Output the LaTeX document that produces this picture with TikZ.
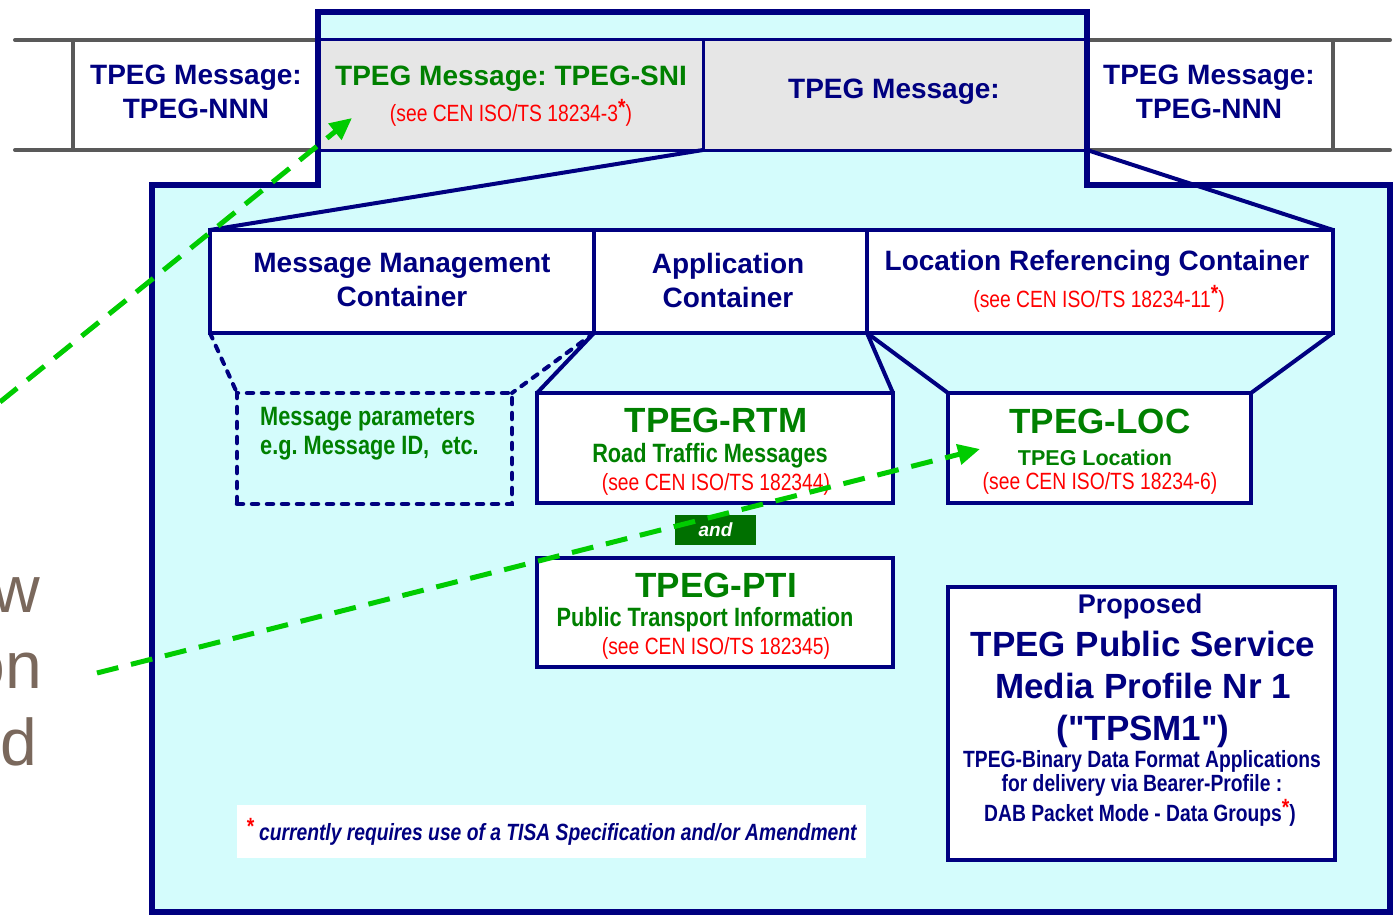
\documentclass[tikz,border=0pt]{standalone}
\usepackage{fontspec}
\setmainfont{Liberation Sans}[Ligatures=TeXOff]
\newfontfamily\narrowfont[FakeStretch=0.82]{Liberation Sans}
\usetikzlibrary{arrows.meta}
\definecolor{navy}{RGB}{0,0,128}
\definecolor{cyanfill}{RGB}{212,252,252}
\definecolor{cellgray}{RGB}{230,230,230}
\definecolor{dkgreen}{RGB}{0,128,0}
\definecolor{brightgreen}{RGB}{0,204,0}
\definecolor{bandgray}{RGB}{89,89,89}
\definecolor{fragbrown}{RGB}{122,104,92}
\definecolor{andgreen}{RGB}{0,112,0}
\definecolor{refred}{RGB}{255,0,0}
\newcommand{\fsz}[2]{\fontsize{#1}{#2}\selectfont}
\newcommand{\redast}{\textcolor{refred}{\raisebox{0.28em}{\bfseries *}}}
\frenchspacing
\begin{document}
\begin{tikzpicture}[x=1pt,y=-1pt,
  box/.style={draw=navy, line width=4pt, fill=white, rectangle, outer sep=0pt, inner sep=0pt},
  cell/.style={draw=navy, line width=3pt, fill=cellgray, rectangle, outer sep=0pt, inner sep=0pt},
  dbox/.style={draw=navy, line width=4.5pt, dash pattern=on 6pt off 9pt, line cap=round, rectangle, outer sep=0pt, inner sep=0pt},
  dline/.style={navy, line width=4pt, dash pattern=on 6pt off 8pt, line cap=round},
  sline/.style={navy, line width=4pt},
  ttl/.style={text=navy, align=center, inner sep=0pt, font=\bfseries\fsz{28}{34}},
  big/.style={text=dkgreen, inner sep=0pt, font=\bfseries\fsz{35}{40}},
  sub/.style={text=dkgreen, inner sep=0pt, font=\narrowfont\bfseries\fsz{26.5}{29}},
  ref/.style={text=refred, inner sep=0pt, font=\narrowfont\fsz{23.5}{26}},
  frag/.style={text=fragbrown, inner sep=0pt, font=\fsz{66}{76}, anchor=base east},
  garrow/.style={brightgreen, line width=5pt, dash pattern=on 22pt off 13pt, -{Triangle[length=22pt,width=20pt]}}
]
\useasboundingbox (0,0) rectangle (1396,915);
\clip (0,0) rectangle (1396,915);
% outer cyan shape
\fill[cyanfill] (318,12) -- (1087,12) -- (1087,185) -- (1390,185) -- (1390,912) -- (152,912) -- (152,185) -- (318,185) -- cycle;
% band
\draw[bandgray, line width=4pt, line cap=round] (15,40) -- (1390,40);
\draw[bandgray, line width=4pt, line cap=round] (15,150) -- (1390,150);
\draw[bandgray, line width=4pt] (73,40) -- (73,150);
\draw[bandgray, line width=4pt] (1333,40) -- (1333,150);
\node[cell, minimum width=385pt, minimum height=110pt] (sni) at (510.5,95) {};
\node[cell, minimum width=384pt, minimum height=110pt] (tpm) at (895,95) {};
\draw[navy, line width=5.5pt, line join=miter] (318,12) -- (1087,12) -- (1087,185) -- (1390,185) -- (1390,912) -- (152,912) -- (152,185) -- (318,185) -- cycle;
% containers
\node[box, minimum width=384pt, minimum height=103pt] (mmc) at (402,281.5) {};
\node[box, minimum width=273pt, minimum height=103pt] (app) at (730.5,281.5) {};
\node[box, minimum width=466pt, minimum height=103pt] (lrc) at (1100,281.5) {};
\draw[sline] (sni.south east) -- (mmc.north west);
\draw[sline] (tpm.south east) -- (lrc.north east);
% second level
\node[dbox, minimum width=275pt, minimum height=111pt] (par) at (374.5,448.5) {};
\node[box, minimum width=356pt, minimum height=110pt] (rtm) at (715,448) {};
\node[box, minimum width=303pt, minimum height=110pt] (loc) at (1099.5,448) {};
\node[box, minimum width=356pt, minimum height=109pt] (pti) at (715,612.5) {};
\node[box, minimum width=387pt, minimum height=273pt] (prop) at (1141.5,723.5) {};
\node[fill=white, minimum width=629pt, minimum height=53pt, inner sep=0pt, outer sep=0pt] (note) at (551.5,831.5) {};
\node[fill=andgreen, minimum width=81pt, minimum height=30pt, inner sep=0pt, outer sep=0pt, text=white, font=\bfseries\itshape\fsz{19}{22}] (andb) at (715.5,530) {and};
\draw[dline] (mmc.south west) -- (par.north west);
\draw[dline] (mmc.south east) -- (par.north east);
\draw[sline] (app.south west) -- (rtm.north west);
\draw[sline] (app.south east) -- (rtm.north east);
\draw[sline] (lrc.south west) -- (loc.north west);
\draw[sline] (lrc.south east) -- (loc.north east);
% band texts
\node[ttl] (nnnl) at (196,92) {TPEG Message:\\TPEG-NNN};
\node[ttl, text=dkgreen] (snit) at (511,79) {TPEG Message: TPEG-SNI};
\node[ref] (snir) at (511,113) {(see CEN ISO/TS 18234-3\redast)};
\node[ttl] (tpmt) at (894,92) {TPEG Message:};
\node[ttl] (nnnr) at (1209,92) {TPEG Message:\\TPEG-NNN};
% container texts
\node[ttl] (mmct) at (402,280) {Message Management\\Container};
\node[ttl] (appt) at (728,280) {Application\\Container};
\node[ttl] (lrct) at (1097,263) {Location Referencing Container};
\node[ref] (lrcr) at (1099,299) {(see CEN ISO/TS 18234-11\redast)};
% second level texts
\node[sub, align=left, anchor=north west] (part) at (260,407) {Message parameters\\e.g. Message ID,~ etc.};
\node[big] (rtmt) at (716,420) {TPEG-RTM};
\node[sub] (rtms) at (710,456) {Road Traffic Messages};
\node[ref] (rtmr) at (716,484) {(see CEN ISO/TS 182344)};
\node[big] (loct) at (1100,421) {TPEG-LOC};
\node[text=dkgreen, inner sep=0pt, font=\bfseries\fsz{21.5}{25}] (locs) at (1095,458) {TPEG Location};
\node[ref] (locr) at (1100,483) {(see CEN ISO/TS 18234-6)};
\node[big] (ptit) at (716,585) {TPEG-PTI};
\node[sub] (ptis) at (705,620) {Public Transport Information};
\node[ref] (ptir) at (716,648) {(see CEN ISO/TS 182345)};
% proposed
\node[text=navy, inner sep=0pt, font=\bfseries\fsz{27}{30}] (propa) at (1140,607) {Proposed};
\node[text=navy, inner sep=0pt, align=center, font=\bfseries\fsz{35}{42}] (propb) at (1143,689) {TPEG Public Service\\Media Profile Nr 1\\("TPSM1")};
\node[text=navy, inner sep=0pt, align=center, font=\narrowfont\bfseries\fsz{23.5}{24}] (propc) at (1142,773) {TPEG-Binary Data Format Applications\\for delivery via Bearer-Profile :};
\node[text=navy, inner sep=0pt, font=\narrowfont\bfseries\fsz{23.5}{24}] (propd) at (1140,813) {DAB Packet Mode - Data Groups\redast)};
% footnote
\node[text=navy, inner sep=0pt, anchor=west, font=\narrowfont\bfseries\itshape\fsz{23.5}{26}] (notet) at (246,832) {\redast\ currently requires use of a TISA Specification and/or Amendment};
% fragments
\node[frag] (fw) at (40,612) {w};
\node[frag] (fon) at (42,688) {on};
\node[frag] (fd) at (37,765) {d};
% green arrows
\coordinate (g1s) at (0,402);
\coordinate (g1t) at (352,118);
\coordinate (g2s) at (97,673);
\coordinate (g2t) at (980,449);
\draw[garrow] (g1s) -- (g1t);
\draw[garrow] (g2s) -- (g2t);
\end{tikzpicture}
\end{document}
